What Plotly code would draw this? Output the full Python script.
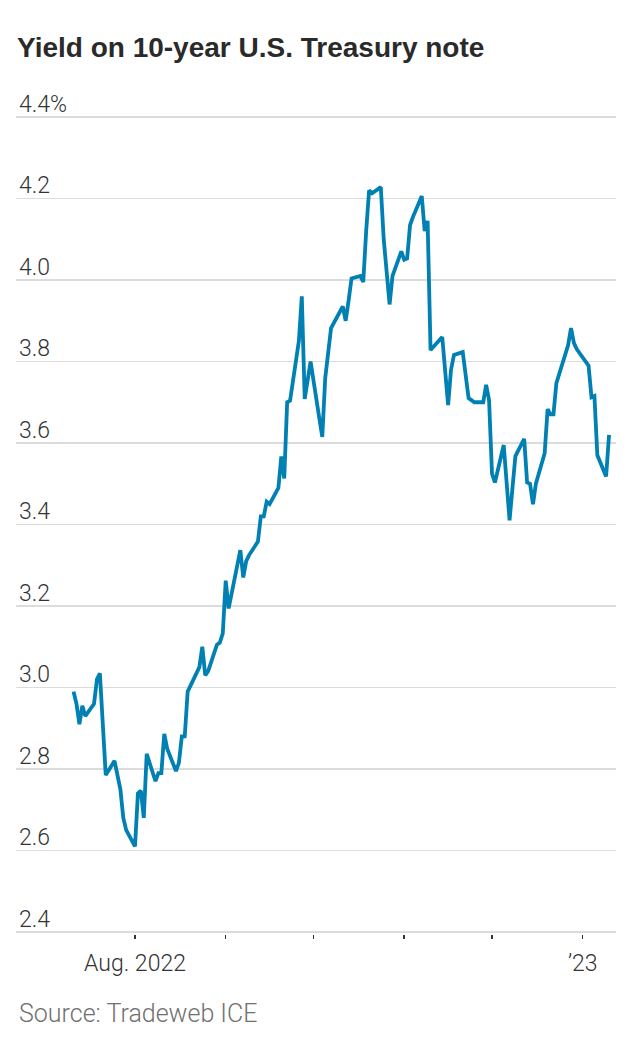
import plotly.graph_objects as go

dates = [
    "2022-07-11", "2022-07-12", "2022-07-13", "2022-07-14", "2022-07-15",
    "2022-07-18", "2022-07-19", "2022-07-20", "2022-07-21", "2022-07-22",
    "2022-07-25", "2022-07-26", "2022-07-27", "2022-07-28", "2022-07-29",
    "2022-08-01", "2022-08-02", "2022-08-03", "2022-08-04", "2022-08-05",
    "2022-08-08", "2022-08-09", "2022-08-10", "2022-08-11", "2022-08-12",
    "2022-08-15", "2022-08-16", "2022-08-17", "2022-08-18", "2022-08-19",
    "2022-08-22", "2022-08-23", "2022-08-24", "2022-08-25", "2022-08-26",
    "2022-08-29", "2022-08-30", "2022-08-31", "2022-09-01", "2022-09-02",
    "2022-09-06", "2022-09-07", "2022-09-08", "2022-09-09",
    "2022-09-12", "2022-09-13", "2022-09-14", "2022-09-15", "2022-09-16",
    "2022-09-19", "2022-09-20", "2022-09-21", "2022-09-22", "2022-09-23",
    "2022-09-26", "2022-09-27", "2022-09-28", "2022-09-29", "2022-09-30",
    "2022-10-03", "2022-10-04", "2022-10-05", "2022-10-06", "2022-10-07",
    "2022-10-11", "2022-10-12", "2022-10-13", "2022-10-14",
    "2022-10-17", "2022-10-18", "2022-10-19", "2022-10-20", "2022-10-21",
    "2022-10-24", "2022-10-25", "2022-10-26", "2022-10-27", "2022-10-28",
    "2022-10-31", "2022-11-01", "2022-11-02", "2022-11-03", "2022-11-04",
    "2022-11-07", "2022-11-08", "2022-11-09", "2022-11-10",
    "2022-11-14", "2022-11-15", "2022-11-16", "2022-11-17", "2022-11-18",
    "2022-11-21", "2022-11-22", "2022-11-23", "2022-11-25",
    "2022-11-28", "2022-11-29", "2022-11-30", "2022-12-01", "2022-12-02",
    "2022-12-05", "2022-12-06", "2022-12-07", "2022-12-08", "2022-12-09",
    "2022-12-12", "2022-12-13", "2022-12-14", "2022-12-15", "2022-12-16",
    "2022-12-19", "2022-12-20", "2022-12-21", "2022-12-22", "2022-12-23",
    "2022-12-27", "2022-12-28", "2022-12-29", "2022-12-30",
    "2023-01-03", "2023-01-04", "2023-01-05", "2023-01-06",
    "2023-01-09", "2023-01-10",
]

yields = [
    2.99, 2.96, 2.91, 2.955, 2.93,
    2.96, 3.02, 3.035, 2.91, 2.785,
    2.82, 2.78, 2.75, 2.68, 2.65,
    2.61, 2.74, 2.747, 2.68, 2.837,
    2.77, 2.79, 2.79, 2.886, 2.85,
    2.795, 2.815, 2.88, 2.88, 2.99,
    3.035, 3.05, 3.10, 3.03, 3.04,
    3.105, 3.11, 3.133, 3.262, 3.194,
    3.337, 3.27, 3.31, 3.325,
    3.358, 3.42, 3.42, 3.456, 3.45,
    3.49, 3.567, 3.513, 3.70, 3.704,
    3.85, 3.96, 3.708, 3.76, 3.80,
    3.66, 3.615, 3.759, 3.82, 3.882,
    3.935, 3.90, 3.95, 4.004,
    4.01, 3.995, 4.12, 4.22, 4.213,
    4.228, 4.10, 4.02, 3.94, 4.01,
    4.07, 4.05, 4.053, 4.135, 4.155,
    4.206, 4.12, 4.145, 3.828,
    3.86, 3.78, 3.693, 3.78, 3.816,
    3.823, 3.76, 3.71, 3.70,
    3.70, 3.743, 3.705, 3.525, 3.503,
    3.595, 3.50, 3.41, 3.49, 3.568,
    3.61, 3.503, 3.50, 3.45, 3.50,
    3.575, 3.683, 3.67, 3.67, 3.747,
    3.84, 3.882, 3.845, 3.83,
    3.79, 3.712, 3.715, 3.57,
    3.518, 3.62,
]

y_tickvals = [2.4, 2.6, 2.8, 3.0, 3.2, 3.4, 3.6, 3.8, 4.0, 4.2, 4.4]
y_ticktext = ["2.4", "2.6", "2.8", "3.0", "3.2", "3.4", "3.6", "3.8", "4.0", "4.2", "4.4%"]

x_tickvals = ["2022-08-01", "2022-09-01", "2022-10-01", "2022-11-01", "2022-12-01", "2023-01-01"]
x_ticktext = ["Aug. 2022", "", "", "", "", "\u201923"]

title_text = "Yield on 10-year U.S. Treasury note"
source_text = "Source: Tradeweb ICE"

TICKFONT = "Roboto, sans-serif"

fig = go.Figure()
fig.add_trace(go.Scatter(
    x=dates, y=yields, mode="lines",
    line=dict(color="#0080b3", width=3.8),
    hoverinfo="skip",
))

# 2 px padding so the 2.4 and 4.4 gridlines are not clipped at the plot edges
pad = 2 / 407.5

fig.update_layout(
    width=636, height=1042,
    margin=dict(l=16, r=20, t=115, b=108),
    paper_bgcolor="white", plot_bgcolor="white",
    showlegend=False,
    title=dict(
        text="<b>" + title_text + "</b>",
        x=17 / 636, xref="container", xanchor="left",
        y=1 - 47 / 1042, yref="container", yanchor="middle",
        font=dict(family="Liberation Sans, Arial, sans-serif", size=28, color="#2a2a2a"),
    ),
    xaxis=dict(
        type="date",
        range=["2022-06-21 08:00", "2023-01-12 09:00"],
        tickvals=x_tickvals, ticktext=x_ticktext,
        ticks="outside", ticklen=4, tickwidth=1.5, tickcolor="#333333",
        showgrid=False, zeroline=False,
        showline=False,
        tickfont=dict(family=TICKFONT, size=23, color="#333333", weight=300),
        ticklabelstandoff=4,
    ),
    yaxis=dict(
        range=[2.4 - pad, 4.4 + pad],
        tickvals=y_tickvals, ticktext=y_ticktext,
        ticklabelposition="inside top",
        ticklabeloverflow="allow",
        ticklabelshift=3,
        showgrid=True, gridcolor="#dcdcdc", gridwidth=1.7,
        zeroline=False, showline=False,
        tickfont=dict(family=TICKFONT, size=23, color="#333333", weight=300),
    ),
    annotations=[dict(
        text=source_text, xref="paper", yref="paper",
        x=1 / 600, y=(934 - 1013) / 819, xanchor="left", yanchor="middle",
        showarrow=False,
        font=dict(family="Roboto, sans-serif", size=25, color="#707070", weight=300),
    )],
)

fig.write_html(
    "out.html",
    config={"displayModeBar": False, "staticPlot": True},
    post_script="document.body.style.margin='0px';",
)
